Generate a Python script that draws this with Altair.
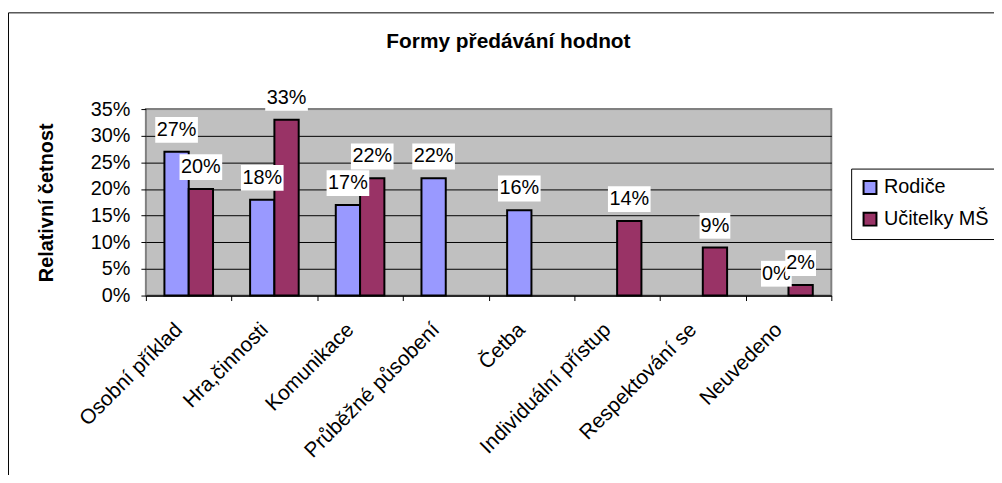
import altair as alt
import pandas as pd

categories = ["Osobní příklad", "Hra,činnosti", "Komunikace", "Průběžné působení",
              "Četba", "Individuální přístup", "Respektování se", "Neuvedeno"]
series = ["Rodiče", "Učitelky MŠ"]
rodice = [27, 18, 17, 22, 16, None, None, 0]
ucitelky = [20, 33, 22, None, None, 14, 9, 2]
y_ticks = [0, 5, 10, 15, 20, 25, 30, 35]
chart_title = "Formy předávání hodnot"
y_title = "Relativní četnost"
colors = ["#9999FF", "#993366"]

FONT = "Liberation Sans"

rows = []
for s, vals in zip(series, [rodice, ucitelky]):
    for c, v in zip(categories, vals):
        if v is None:
            continue
        lab = f"{v}%"
        rows.append({"cat": c, "series": s, "value": v, "label": lab,
                     "w": 12 * len(lab) + 7})
df = pd.DataFrame(rows)

x_enc = alt.X("cat:N", sort=categories,
              scale=alt.Scale(paddingInner=0, paddingOuter=0),
              axis=alt.Axis(title=None, labelAngle=-45, labelAlign="right",
                            labelBaseline="middle", labelPadding=26, labelOffset=-10,
                            labelFont=FONT, labelFontSize=21, labelColor="black",
                            labelLimit=400, labelOverlap=False,
                            tickBand="extent", tickSize=5, tickColor="black",
                            domainColor="black", domainWidth=1, grid=False))
xo_enc = alt.XOffset("series:N", sort=series,
                     scale=alt.Scale(domain=series, paddingInner=0, paddingOuter=0.763))
y_enc = alt.Y("value:Q", scale=alt.Scale(domain=[0, 35], nice=False),
              axis=alt.Axis(values=y_ticks, labelExpr="datum.value + '%'",
                            labelFont=FONT, labelFontSize=20, labelColor="black",
                            labelPadding=11, tickSize=5, tickColor="black",
                            domain=False, grid=True,
                            gridColor=alt.condition("datum.value >= 35",
                                                    alt.value("#808080"),
                                                    alt.value("black")),
                            gridWidth=1,
                            title=y_title, titleFont=FONT, titleFontSize=20,
                            titleFontWeight="bold", titleColor="black",
                            titleX=-94, titleBaseline="alphabetic"))

base = alt.Chart(df)

frame = alt.Chart(pd.DataFrame({"a": [0]})).mark_rect(
    filled=False, stroke="black", strokeWidth=1
).encode(x=alt.value(-138.5), x2=alt.value(950), y=alt.value(-97), y2=alt.value(500))

bars = base.transform_filter("datum.value > 0").mark_bar(
    stroke="black", strokeWidth=2, opacity=1
).encode(
    x=x_enc, xOffset=xo_enc, y=y_enc,
    color=alt.Color("series:N", sort=series,
                    scale=alt.Scale(domain=series, range=colors),
                    legend=alt.Legend(title=None, orient="none", legendX=711, legendY=60,
                                      strokeColor="black", fillColor="white", padding=9,
                                      symbolType="square", symbolSize=169,
                                      symbolStrokeColor="black", symbolStrokeWidth=2,
                                      symbolOpacity=1, labelFont=FONT, labelFontSize=20,
                                      labelColor="black", labelOffset=4, rowPadding=10)),
)

layers = [frame, bars]
for s in series:
    sub = base.transform_filter(alt.datum.series == s)
    box = sub.mark_tick(color="white", opacity=1, thickness=26, yOffset=-22).encode(
        x=x_enc, xOffset=xo_enc, y=y_enc, size=alt.Size("w:Q", scale=None, legend=None))
    txt = sub.mark_text(font=FONT, fontSize=20, color="black", baseline="middle",
                        align="center", dy=-22).encode(
        x=x_enc, xOffset=xo_enc, y=y_enc, text="label:N")
    layers += [box, txt]

chart = alt.layer(*layers).properties(
    width=691, height=188,
    autosize=alt.AutoSizeParams(type="none"),
    padding={"left": 139, "top": 100, "right": 164, "bottom": 179},
    title=alt.TitleParams(chart_title, font=FONT, fontSize=21, fontWeight="bold",
                          color="black", anchor="middle", dx=20, offset=-57,
                          baseline="alphabetic"),
).configure(background="white").configure_view(
    fill="#C0C0C0", stroke="#808080", strokeWidth=2
)

chart.save("out.html", embed_options={"renderer": "svg", "actions": False})
